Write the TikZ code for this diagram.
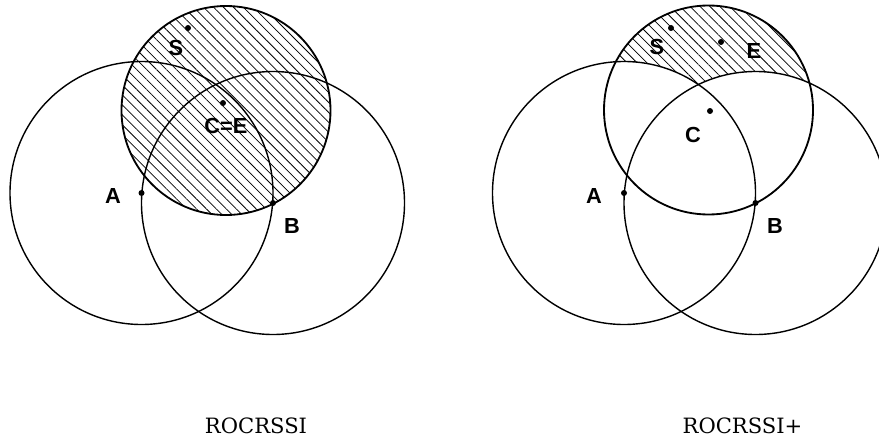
\documentclass[tikz,border=0pt]{standalone}
\usepackage{fontspec}
\setmainfont{DejaVu Serif}
\newfontfamily\labelfont{Liberation Sans}
\usetikzlibrary{patterns.meta}

\begin{document}
\begin{tikzpicture}[x=0.025cm,y=-0.025cm,
		circ/.style={line width=1pt},
		rangecirc/.style={line width=1.3pt},
		hatch/.style={pattern={Lines[angle=-45,distance=5pt,line width=0.55pt]}},
		lbl/.style={font=\labelfont\bfseries\fontsize{15.5}{18}\selectfont,inner sep=0pt},
		title/.style={font=\fontsize{15}{18}\selectfont,inner sep=0pt,anchor=base}]
	\useasboundingbox (0,0) rectangle (879,440);
	% ROCRSSI: whole range circle hatched
	\begin{scope}
		\fill[hatch] (226,110.5) circle (104.5);
		\draw[rangecirc] (226,110.5) circle (104.5);
		\draw[circ] (141.5,193) circle (131.5);
		\draw[circ] (273,203) circle (131.5);
		\foreach \p in {(141.5,193),(273,203),(188,28),(223,103)}
			\fill \p circle (3);
		\node[lbl] (lA) at (113,196) {A};
		\node[lbl] (lB) at (292,226) {B};
		\node[lbl] (lS) at (176,47.5) {S};
		\node[lbl] (lCE) at (226,126) {C=E};
		\node[title] (tL) at (256,433) {ROCRSSI};
	\end{scope}
	% ROCRSSI+: only the part outside both circles hatched
	\begin{scope}[shift={(482.5,0)}]
		\begin{scope}
			\clip (226,110) circle (104.5);
			\fill[hatch] (226,110) circle (104.5);
			\fill[white] (141.5,193) circle (131.5) (273,203) circle (131.5);
		\end{scope}
		\draw[rangecirc] (226,110) circle (104.5);
		\draw[circ] (141.5,193) circle (131.5);
		\draw[circ] (273,203) circle (131.5);
		\foreach \p in {(141.5,193),(273,203),(188.5,28),(238.5,42),(227.5,111)}
			\fill \p circle (3);
		\node[lbl] (rA) at (111.5,196) {A};
		\node[lbl] (rB) at (292.5,226) {B};
		\node[lbl] (rS) at (174.5,47) {S};
		\node[lbl] (rE) at (271.5,51) {E};
		\node[lbl] (rC) at (210.5,135) {C};
		\node[title] (tR) at (260,433) {ROCRSSI+};
	\end{scope}
\end{tikzpicture}
\end{document}
